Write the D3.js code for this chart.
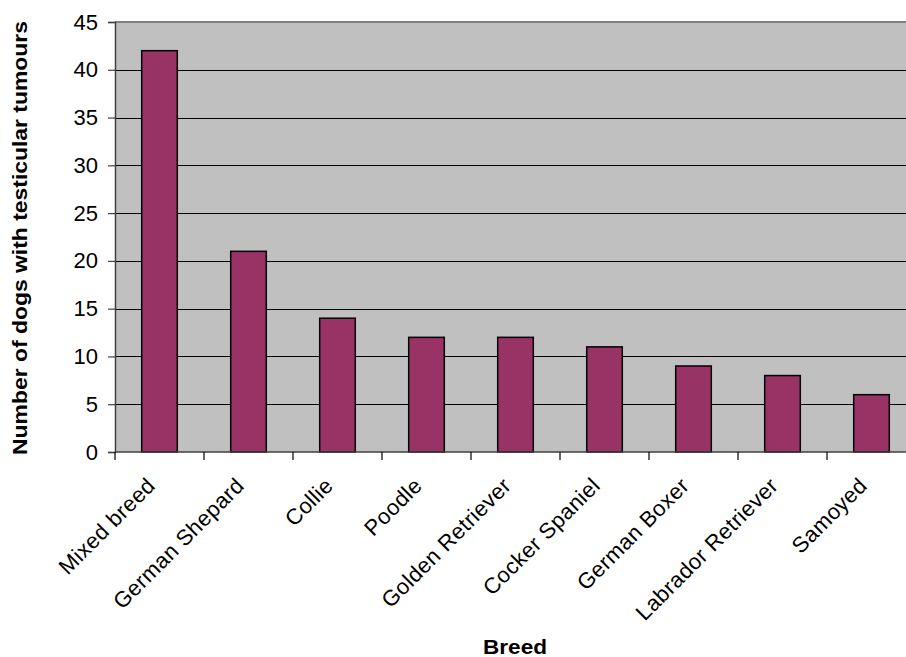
<!DOCTYPE html>
<html>
<head>
<meta charset="utf-8">
<script src="https://cdn.jsdelivr.net/npm/d3@7"></script>
<style>
  html, body { margin: 0; padding: 0; background: #fff; }
  svg { display: block; font-family: Arial, "Liberation Sans", sans-serif; }
</style>
</head>
<body>
<svg id="chart" width="906" height="657"></svg>
<script>
// Breeds and case counts
const breeds = ["Mixed breed", "German Shepard", "Collie", "Poodle", "Golden Retriever",
                "Cocker Spaniel", "German Boxer", "Labrador Retriever", "Samoyed"];
const counts = [42, 21, 14, 12, 12, 11, 9, 8, 6];
const yTicks = [0, 5, 10, 15, 20, 25, 30, 35, 40, 45];

const svg = d3.select("#chart");
const plot = { left: 115, right: 916, top: 22, bottom: 452 };

const x = d3.scaleBand().domain(breeds).range([plot.left, plot.right]).paddingInner(0).paddingOuter(0);
const y = d3.scaleLinear().domain([0, 45]).range([plot.bottom, plot.top]);

// plot background
svg.append("rect")
  .attr("x", plot.left).attr("y", plot.top)
  .attr("width", plot.right - plot.left).attr("height", plot.bottom - plot.top)
  .attr("fill", "#c0c0c0");

// top border
svg.append("line")
  .attr("x1", plot.left).attr("x2", plot.right)
  .attr("y1", plot.top).attr("y2", plot.top)
  .attr("stroke", "#808080").attr("stroke-width", 2);

// horizontal gridlines
svg.append("g").selectAll("line")
  .data(yTicks.filter(d => d > 0 && d < 45))
  .join("line")
  .attr("x1", plot.left).attr("x2", plot.right)
  .attr("y1", d => Math.round(y(d)) + 0.5).attr("y2", d => Math.round(y(d)) + 0.5)
  .attr("stroke", "#000").attr("stroke-width", 1.2);

// bars
const barW = x.bandwidth() * 0.4;
svg.append("g").selectAll("rect")
  .data(breeds.map((b, i) => ({ b, v: counts[i] })))
  .join("rect")
  .attr("x", d => x(d.b) + (x.bandwidth() - barW) / 2)
  .attr("y", d => y(d.v))
  .attr("width", barW)
  .attr("height", d => y(0) - y(d.v))
  .attr("fill", "#993366")
  .attr("stroke", "#000")
  .attr("stroke-width", 1.5);

// y axis
const yAxis = svg.append("g")
  .attr("transform", `translate(${plot.left},0)`)
  .call(d3.axisLeft(y).tickValues(yTicks).tickSize(7).tickPadding(10));
yAxis.select(".domain").attr("stroke", "#404040").attr("stroke-width", 1.5);
yAxis.selectAll(".tick line").attr("stroke", "#404040").attr("stroke-width", 1.2);
yAxis.selectAll(".tick text")
  .attr("font-size", 22).attr("fill", "#000")
  .attr("font-family", "Arial, 'Liberation Sans', sans-serif");

// x axis baseline and ticks between categories
svg.append("line")
  .attr("x1", plot.left).attr("x2", plot.right)
  .attr("y1", plot.bottom).attr("y2", plot.bottom)
  .attr("stroke", "#404040").attr("stroke-width", 1.5);
svg.append("g").selectAll("line")
  .data(breeds)
  .join("line")
  .attr("x1", d => x(d)).attr("x2", d => x(d))
  .attr("y1", plot.bottom).attr("y2", plot.bottom + 8)
  .attr("stroke", "#000").attr("stroke-width", 1.2);

// rotated category labels
svg.append("g").selectAll("text")
  .data(breeds)
  .join("text")
  .attr("transform", d => `translate(${x(d) + x.bandwidth() / 2 - 3},487) rotate(-45)`)
  .attr("text-anchor", "end")
  .attr("font-size", 22)
  .attr("letter-spacing", 0.4)
  .attr("fill", "#000")
  .text(d => d);

// axis titles
svg.append("text")
  .attr("transform", "translate(27,238) rotate(-90)")
  .attr("text-anchor", "middle")
  .attr("font-size", 20).attr("font-weight", "bold")
  .attr("textLength", 434).attr("lengthAdjust", "spacingAndGlyphs")
  .text("Number of dogs with testicular tumours");

svg.append("text")
  .attr("x", 515).attr("y", 654)
  .attr("text-anchor", "middle")
  .attr("font-size", 21).attr("font-weight", "bold")
  .attr("textLength", 64).attr("lengthAdjust", "spacingAndGlyphs")
  .text("Breed");
</script>
</body>
</html>
